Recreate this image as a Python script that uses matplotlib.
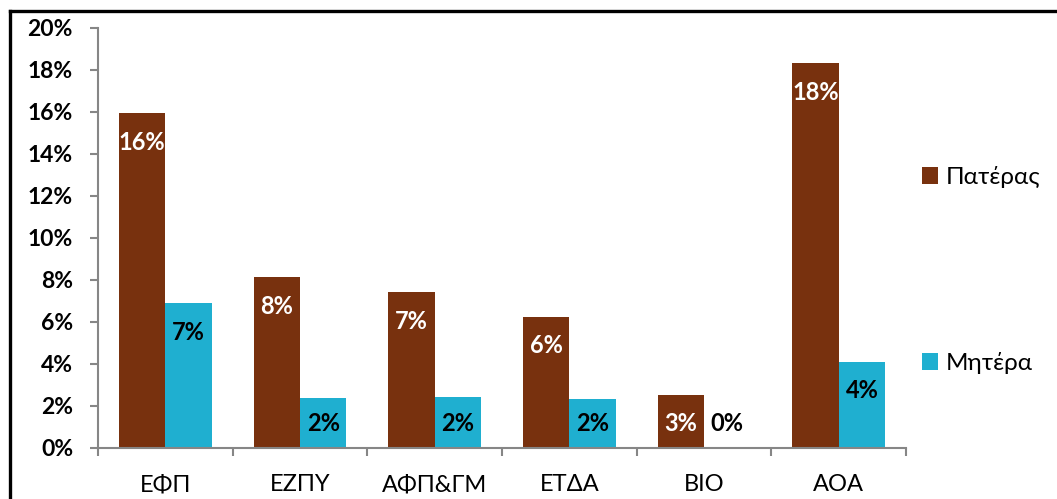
import matplotlib
matplotlib.use("Agg")
import matplotlib.pyplot as plt
from matplotlib.lines import Line2D
import numpy as np

plt.rcParams['font.family'] = ['Lato', 'DejaVu Sans']

categories = ["ΕΦΠ", "ΕΖΠΥ", "ΑΦΠ&ΓΜ", "ΕΤΔΑ", "ΒΙΟ", "ΑΟΑ"]
father = [15.95, 8.14, 7.41, 6.25, 2.52, 18.33]
mother = [6.90, 2.38, 2.44, 2.32, 0.0, 4.11]
series_names = ["Πατέρας", "Μητέρα"]
yticks = [0, 2, 4, 6, 8, 10, 12, 14, 16, 18, 20]

c_father = "#78310E"
c_mother = "#1FAFD0"
grey = "#868686"

fig = plt.figure(figsize=(10.57, 4.99), dpi=100)
ax = fig.add_axes([98/1057, 1-448/499, (906-98)/1057, (448-28)/499])

x = np.arange(len(categories))
w = 0.345
b1 = ax.bar(x - w/2, father, w, color=c_father, label=series_names[0])
b2 = ax.bar(x + w/2, mother, w, color=c_mother, label=series_names[1])

ax.set_xlim(-0.5, len(categories) - 0.5)
ax.set_ylim(0, 20)
ax.set_yticks(yticks)
ax.set_yticklabels([f"{v}%" for v in yticks], fontsize=16.5, fontweight='bold')
ax.set_xticks(x)
ax.set_xticklabels(categories, fontsize=17)
ax.set_xticks(np.arange(len(categories) + 1) - 0.5, minor=True)
ax.tick_params(axis='x', which='major', length=0, pad=19)
ax.tick_params(axis='x', which='minor', length=6, width=1.5, color=grey, direction='out')
ax.tick_params(axis='y', length=6, width=1.5, color=grey, direction='out', pad=12)

for s in ['top', 'right']:
    ax.spines[s].set_visible(False)
for s in ['left', 'bottom']:
    ax.spines[s].set_color(grey)
    ax.spines[s].set_linewidth(1.5)

def label_bars(bars, vals, color):
    for rect, v in zip(bars, vals):
        cx = rect.get_x() + rect.get_width()/2
        yc = max(v - 1.38, 1.19)
        ax.text(cx, yc, f"{round(v):.0f}%", ha='center', va='center',
                fontsize=17, fontweight='bold', color=color)

label_bars(b1, father, 'white')
label_bars(b2, mother, 'black')

fig.legend(handles=[b1, b2], labels=series_names, loc='upper left',
           bbox_to_anchor=(922/1057, 1-166/499), frameon=False, fontsize=17.5,
           handlelength=0.66, handleheight=0.66, handletextpad=0.3,
           labelspacing=6.75, borderpad=0, borderaxespad=0)

fig.add_artist(Line2D([10/1057, 10/1057], [0, 1-11/499], transform=fig.transFigure,
                      color='black', linewidth=2.4, solid_capstyle='projecting'))
fig.add_artist(Line2D([10/1057, 1], [1-11/499, 1-11/499], transform=fig.transFigure,
                      color='black', linewidth=2.4, solid_capstyle='projecting'))

fig.savefig("out.png", dpi=100, facecolor='white')
